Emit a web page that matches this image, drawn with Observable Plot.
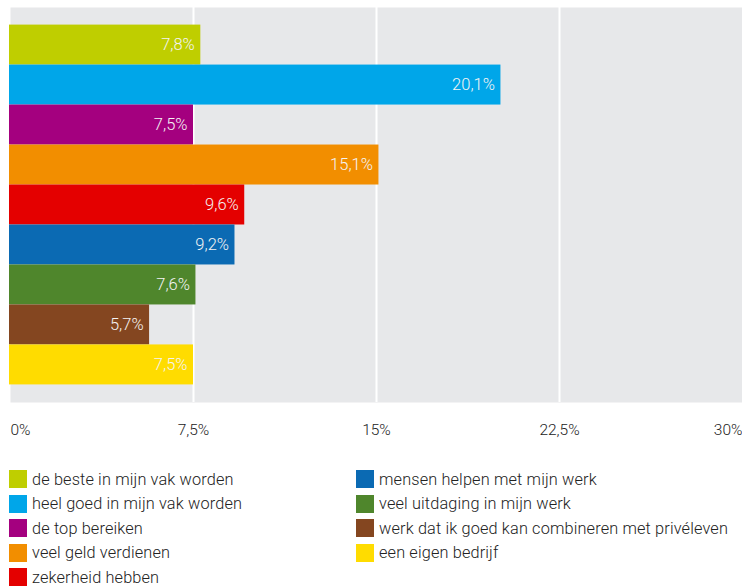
<!DOCTYPE html>
<html>
<head>
<meta charset="utf-8">
<script src="https://cdn.jsdelivr.net/npm/d3@7"></script>
<script src="https://cdn.jsdelivr.net/npm/@observablehq/plot@0.6"></script>
<style>
  body { margin: 0; background: #fff; font-family: Roboto, "Open Sans", sans-serif; }
  #chart svg { display: block; }
  #legend {
    display: grid;
    grid-template-columns: 347px 385px;
    grid-template-rows: repeat(5, 24.5px);
    grid-auto-flow: column;
    margin: 20px 0 0 9px;
    color: #222;
    font-size: 16.3px;
    font-weight: 300;
    letter-spacing: 0.15px;
  }
  .item { display: flex; align-items: center; height: 24.5px; white-space: nowrap; }
  .sw { width: 18px; height: 18px; margin-right: 5px; flex: none; }
</style>
</head>
<body>
<div id="chart"></div>
<div id="legend"></div>
<script>
const categories = [
  "de beste in mijn vak worden",
  "heel goed in mijn vak worden",
  "de top bereiken",
  "veel geld verdienen",
  "zekerheid hebben",
  "mensen helpen met mijn werk",
  "veel uitdaging in mijn werk",
  "werk dat ik goed kan combineren met privéleven",
  "een eigen bedrijf"
];
const values = [7.8, 20.1, 7.5, 15.1, 9.6, 9.2, 7.6, 5.7, 7.5];
const colors = ["#bfce00", "#00a6e9", "#a4007f", "#f28e00", "#e40000", "#0b6ab3", "#4f862c", "#844620", "#ffdc00"];
const xTicks = [0, 7.5, 15, 22.5, 30];

const data = categories.map((c, i) => ({category: c, value: values[i]}));
const fmt = v => String(v.toFixed(1)).replace(".", ",") + "%";
const tickFmt = v => String(v).replace(".", ",") + "%";

const tickStyle = {frameAnchor: "bottom", dy: 32, fill: "#222", fontSize: 15.5, fontWeight: 300, letterSpacing: "1px"};

const chart = Plot.plot({
  width: 742,
  height: 447,
  marginLeft: 10,
  marginRight: 0,
  marginTop: 7,
  marginBottom: 45,
  style: {fontFamily: "Roboto, 'Open Sans', sans-serif", background: "#fff"},
  x: {domain: [0, 30], axis: null},
  y: {domain: categories, axis: null, paddingInner: 0, paddingOuter: 0.44, round: false},
  color: {domain: categories, range: colors},
  marks: [
    Plot.frame({fill: "#e7e8ea", stroke: null}),
    Plot.ruleX(xTicks.slice(1, -1), {stroke: "#fff", strokeWidth: 2}),
    Plot.barX(data, {y: "category", x: "value", fill: "category", insetLeft: -1}),
    Plot.text(data, {y: "category", x: "value", text: d => fmt(d.value), textAnchor: "end", dx: -6, fill: "#f4f4f4", fontSize: 16.5, fontWeight: 300, letterSpacing: "0.6px"}),
    Plot.text([xTicks[0]], {x: d => d, text: tickFmt, textAnchor: "start", ...tickStyle}),
    Plot.text(xTicks.slice(1, -1), {x: d => d, text: tickFmt, textAnchor: "middle", ...tickStyle}),
    Plot.text([xTicks[xTicks.length - 1]], {x: d => d, text: tickFmt, textAnchor: "end", ...tickStyle})
  ]
});
document.getElementById("chart").appendChild(chart);

const legend = document.getElementById("legend");
categories.forEach((c, i) => {
  const item = document.createElement("div");
  item.className = "item";
  const sw = document.createElement("span");
  sw.className = "sw";
  sw.style.background = colors[i];
  const lab = document.createElement("span");
  lab.textContent = c;
  item.appendChild(sw);
  item.appendChild(lab);
  legend.appendChild(item);
});
</script>
</body>
</html>
